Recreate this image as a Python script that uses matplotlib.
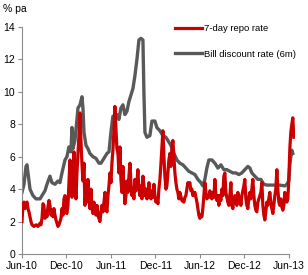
import matplotlib.pyplot as plt

plt.rcParams['font.family'] = ['Liberation Sans', 'DejaVu Sans']

# months since Jun-10
bill_x = [0, 0.27, 0.54, 0.67, 0.81, 1.08, 1.48, 1.89, 2.43, 2.83, 3.1, 3.37, 3.77, 4.04,
          4.45, 4.85, 5.12, 5.39, 5.8, 6.06, 6.33, 6.6, 6.74, 6.87, 7.14, 7.41, 7.55, 7.82,
          8.09, 8.22, 8.36, 8.63, 8.89, 9.16, 9.57, 9.97, 10.38, 10.65, 10.92, 11.19, 11.46,
          11.73, 11.99, 12.26, 12.53, 12.8, 13.07, 13.34, 13.61, 13.88, 14.15, 14.42, 14.69,
          14.96, 15.23, 15.5, 15.77, 16.04, 16.31, 16.44, 16.58, 16.85, 17.25, 17.52, 17.92,
          18.19, 18.6, 19.0, 19.4, 19.68, 20.08, 20.49, 20.89, 21.29, 21.7, 22.1, 22.5, 22.91,
          23.32, 23.72, 24.12, 24.39, 24.66, 24.93, 25.2, 25.61, 26.01, 26.42, 26.82, 27.22,
          27.63, 28.03, 28.44, 28.84, 29.25, 29.65, 30.05, 30.46, 30.73, 31.0, 31.4, 31.81,
          32.21, 32.61, 33.02, 33.42, 34.1, 34.77, 35.44, 35.71, 35.98, 36.12, 36.25, 36.39, 36.52]
bill_y = [3.8, 4.3, 5.4, 5.5, 5.0, 4.0, 3.6, 3.4, 3.4, 3.7, 3.9, 4.3, 4.8, 4.4,
          4.3, 4.5, 4.4, 5.0, 5.8, 6.0, 6.6, 6.3, 7.8, 6.5, 7.0, 8.3, 9.0, 9.2,
          9.7, 9.0, 7.5, 6.7, 6.5, 6.2, 6.0, 5.9, 5.6, 5.6, 5.8, 6.0, 6.2,
          6.3, 7.5, 8.5, 8.4, 8.6, 8.3, 9.0, 9.2, 8.6, 8.8, 9.4, 9.8,
          10.2, 11.0, 12.0, 13.2, 13.3, 13.2, 10.0, 7.5, 7.2, 7.3, 8.2, 8.2,
          7.8, 7.6, 7.3, 7.2, 7.0, 6.7, 6.2, 5.8, 5.6, 5.5, 5.3, 5.1, 5.0,
          4.9, 4.6, 4.4, 4.2, 4.6, 5.3, 5.8, 5.8, 5.6, 5.3, 5.5, 5.2,
          5.2, 5.1, 5.0, 5.0, 4.9, 5.0, 5.2, 5.4, 5.3, 5.0, 4.8, 4.6,
          4.6, 4.3, 4.25, 4.25, 4.25, 4.25, 4.2, 4.3, 4.5, 5.5, 6.0, 6.4, 6.2]

repo_x = [0, 0.13, 0.27, 0.4, 0.54, 0.67, 0.81, 0.94, 1.08, 1.21, 1.35, 1.62, 1.89, 2.16,
          2.43, 2.56, 2.7, 2.83, 2.96, 3.1, 3.23, 3.37, 3.5, 3.64, 3.77, 3.91, 4.04, 4.18,
          4.31, 4.45, 4.58, 4.72, 4.85, 4.99, 5.12, 5.26, 5.39, 5.53, 5.66, 5.8, 5.93, 6.06,
          6.2, 6.33, 6.47, 6.6, 6.74, 6.87, 7.01, 7.14, 7.28, 7.41, 7.55, 7.68, 7.82, 7.95,
          8.09, 8.22, 8.36, 8.49, 8.63, 8.76, 8.89, 9.03, 9.16, 9.3, 9.43, 9.57, 9.7, 9.84,
          9.97, 10.11, 10.24, 10.38, 10.51, 10.65, 10.78, 10.92, 11.05, 11.19, 11.32, 11.46,
          11.59, 11.73, 11.86, 12.0, 12.13, 12.26, 12.4, 12.53, 12.67, 12.8, 12.94, 13.07,
          13.21, 13.34, 13.48, 13.61, 13.75, 13.88, 14.02, 14.15, 14.29, 14.42, 14.56, 14.69,
          14.83, 14.96, 15.09, 15.23, 15.36, 15.5, 15.63, 15.77, 15.9, 16.04, 16.17, 16.31,
          16.44, 16.58, 16.71, 16.85, 16.98, 17.12, 17.25, 17.39, 17.52, 17.65, 17.79, 17.92,
          18.06, 18.19, 18.33, 18.46, 18.6, 18.73, 18.87, 19.0, 19.14, 19.27, 19.41, 19.54,
          19.68, 19.81, 19.95, 20.08, 20.22, 20.35, 20.49, 20.62, 20.76, 20.89, 21.02, 21.16,
          21.29, 21.56, 21.83, 21.97, 22.1, 22.24, 22.37, 22.51, 22.64, 22.78, 22.91, 23.05,
          23.18, 23.32, 23.45, 23.59, 23.72, 23.85, 23.99, 24.12, 24.26, 24.39, 24.53, 24.66,
          24.8, 24.93, 25.07, 25.2, 25.34, 25.47, 25.61, 25.74, 25.88, 26.01, 26.15, 26.28,
          26.42, 26.55, 26.68, 26.82, 26.95, 27.09, 27.22, 27.36, 27.49, 27.63, 27.76, 27.9,
          28.03, 28.17, 28.3, 28.44, 28.57, 28.71, 28.84, 28.98, 29.11, 29.25, 29.38, 29.52,
          29.65, 29.79, 29.92, 30.05, 30.19, 30.32, 30.46, 30.59, 30.73, 30.86, 30.99, 31.13,
          31.27, 31.4, 31.54, 31.67, 31.81, 31.94, 32.08, 32.21, 32.35, 32.48, 32.62, 32.75,
          32.88, 33.02, 33.15, 33.29, 33.42, 33.56, 33.69, 33.83, 33.96, 34.1, 34.23, 34.37,
          34.5, 34.64, 34.77, 34.91, 35.04, 35.18, 35.31, 35.44, 35.58, 35.71, 35.85, 35.98,
          36.12, 36.25, 36.39, 36.52, 36.66]
repo_y = [2.0, 3.0, 3.2, 2.8, 3.0, 3.2, 2.8, 2.6, 2.3, 2.0, 1.8, 1.7, 1.8, 1.7,
          1.9, 1.8, 2.2, 3.1, 3.0, 2.2, 2.6, 2.3, 2.9, 3.3, 3.0, 2.4, 2.7, 2.3,
          2.8, 2.4, 2.1, 1.9, 1.7, 1.8, 2.0, 2.2, 2.8, 2.4, 3.4, 3.6, 2.6, 2.5,
          3.0, 4.3, 5.8, 4.5, 3.5, 5.0, 6.3, 4.5, 3.4, 5.0, 6.2, 7.3, 8.7, 7.0,
          5.5, 4.5, 5.6, 3.0, 4.0, 3.2, 4.6, 3.6, 2.8, 4.0, 2.8, 2.5, 3.2, 2.6,
          2.4, 3.0, 2.4, 2.2, 2.0, 2.6, 3.0, 2.6, 3.2, 3.8, 2.8, 2.6,
          3.6, 4.2, 5.0, 4.4, 5.6, 6.4, 7.6, 9.1, 7.8, 6.5, 6.2, 5.0,
          6.6, 4.6, 3.8, 5.4, 4.2, 3.1, 3.6, 4.5, 3.8, 4.8, 5.6, 4.4,
          3.6, 4.0, 3.4, 4.6, 3.9, 4.4, 5.2, 4.0, 3.6, 4.2, 3.4, 4.8,
          4.2, 3.6, 4.0, 3.4, 3.8, 4.4, 3.6, 3.4, 3.9, 3.5, 4.3, 3.6,
          3.2, 3.4, 3.1, 4.0, 4.6, 5.5, 6.6, 7.6, 6.0, 4.8, 4.0, 4.2,
          5.0, 5.8, 6.2, 5.4, 6.6, 7.0, 6.0, 5.0, 4.4, 4.0, 3.8, 3.4,
          3.8, 3.3, 3.2, 3.5, 3.6, 4.0, 4.4, 4.3, 4.4, 3.9, 4.0, 3.6,
          3.8, 3.8, 3.5, 3.2, 2.8, 2.4, 2.2, 2.4, 2.3, 2.8, 3.6, 4.4,
          3.8, 3.4, 3.6, 3.5, 3.9, 3.6, 3.4, 3.8, 3.5, 4.6, 3.6, 3.3,
          3.6, 3.0, 3.6, 3.3, 4.0, 3.6, 4.8, 5.0, 3.8, 3.5, 3.2, 3.0,
          3.6, 4.4, 3.0, 2.8, 3.4, 3.6, 3.3, 3.0, 3.8, 3.2, 3.5, 3.0,
          3.6, 3.9, 4.2, 4.6, 3.4, 3.0, 2.8, 3.5, 3.8, 3.4, 4.0, 4.6,
          3.6, 3.0, 2.7, 2.6, 3.2, 3.4, 3.6, 3.8, 4.4, 3.0, 2.4, 2.1,
          2.6, 3.2, 3.0, 3.4, 3.8, 3.2, 2.8, 2.5, 3.0, 3.6, 4.0, 5.2,
          4.0, 3.2, 3.0, 3.4, 2.9, 2.7, 3.0, 3.8, 3.6, 3.2, 3.4, 4.6,
          6.5, 7.5, 8.0, 8.4, 7.2]

tick_pos = [0, 6, 12, 18, 24, 30, 36]
tick_labels = ['Jun-10', 'Dec-10', 'Jun-11', 'Dec-11', 'Jun-12', 'Dec-12', 'Jun-13']

fig = plt.figure(figsize=(3.08, 2.75), dpi=100)
ax = fig.add_axes([0.0714, 0.0764, 0.886, 0.8254])

ax.plot(bill_x, bill_y, color='#595959', lw=2.4, label='Bill discount rate (6m)', zorder=2)
ax.plot(repo_x, repo_y, color='#cc0000', lw=2.3, label='7-day repo rate', zorder=3)

ax.set_xlim(0, 36.8)
ax.set_ylim(0, 14)
ax.set_yticks(range(0, 15, 2))
ax.set_xticks(tick_pos)
ax.set_xticklabels(tick_labels)

for s in ['top', 'right']:
    ax.spines[s].set_visible(False)
for s in ['left', 'bottom']:
    ax.spines[s].set_color('#8c8c8c')
ax.spines['bottom'].set_bounds(0, 36)
ax.tick_params(colors='#8c8c8c', labelcolor='black', labelsize=7.5, length=3, width=0.8, pad=2)

fig.text(0.01, 0.955, '% pa', fontsize=7.5)

handles, labels = ax.get_legend_handles_labels()
ax.legend(handles[::-1], labels[::-1], loc='upper left', bbox_to_anchor=(0.53, 1.05),
          frameon=False, fontsize=6.8, handlelength=2.8, handletextpad=0.3, labelspacing=1.75)

fig.savefig('out.png', dpi=100)
